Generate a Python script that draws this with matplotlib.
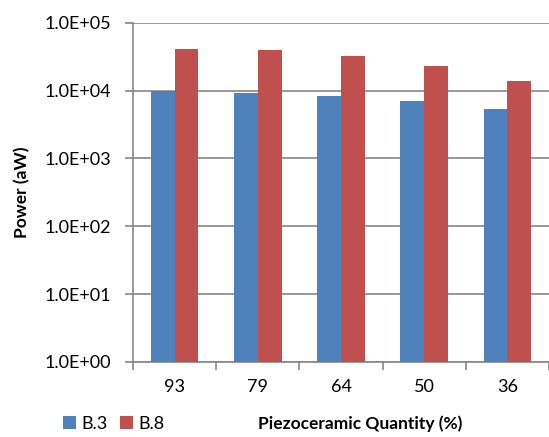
import matplotlib
matplotlib.use("Agg")
import matplotlib.pyplot as plt
import numpy as np

# piezoceramic quantity (%) on x, power in aW on a log axis
categories = ["93", "79", "64", "50", "36"]
b3_power = [1.0e4, 9.1e3, 8.2e3, 6.95e3, 5.35e3]
b8_power = [4.16e4, 3.96e4, 3.24e4, 2.31e4, 1.38e4]
y_ticks = [1e0, 1e1, 1e2, 1e3, 1e4, 1e5]
y_labels = ["1.0E+00", "1.0E+01", "1.0E+02", "1.0E+03", "1.0E+04", "1.0E+05"]

plt.rcParams['font.family'] = ['Lato', 'DejaVu Sans']

fig = plt.figure(figsize=(5.49, 4.37), dpi=100)
ax = fig.add_axes([133 / 549, 1 - 362 / 437, 416 / 549, (362 - 22.7) / 437])

x = np.arange(len(categories))
w = 0.285
ax.bar(x - w / 2, b3_power, w, color="#4F81BD", label="B.3", zorder=3)
ax.bar(x + w / 2, b8_power, w, color="#C0504D", label="B.8", zorder=3)

ax.set_yscale("log")
ax.set_ylim(1, 1e5)
ax.set_yticks(y_ticks)
ax.set_yticklabels(y_labels)
ax.yaxis.set_minor_locator(matplotlib.ticker.NullLocator())
ax.set_xlim(-0.5, len(categories) - 0.5)
ax.set_xticks(x)
ax.set_xticklabels(categories)
ax.set_xticks(np.arange(len(categories) + 1) - 0.5, minor=True)

ax.grid(axis="y", color="#868686", linewidth=1.2, zorder=0)
for s in ["top", "right"]:
    ax.spines[s].set_visible(False)
for s in ["left", "bottom"]:
    ax.spines[s].set_color("#868686")
    ax.spines[s].set_linewidth(1.2)

ax.tick_params(axis="y", length=6, color="#868686", width=1.2, labelsize=13, pad=10)
ax.tick_params(axis="x", which="major", length=0, labelsize=13, pad=12)
ax.tick_params(axis="x", which="minor", length=6, color="#868686", width=1.2)

ax.set_ylabel("Power (aW)", fontsize=12.5, fontweight="bold", labelpad=10)
fig.text(360 / 549, 1 - 424 / 437, "Piezoceramic Quantity (%)", fontsize=12.5,
         fontweight="bold", ha="center", va="center")

fig.legend(loc="center left", bbox_to_anchor=(56 / 549, 1 - 424 / 437), ncol=2,
           frameon=False, fontsize=13, handlelength=0.7, handleheight=0.7,
           handletextpad=0.3, columnspacing=0.7, borderaxespad=0)

fig.savefig("out.png", dpi=100)
